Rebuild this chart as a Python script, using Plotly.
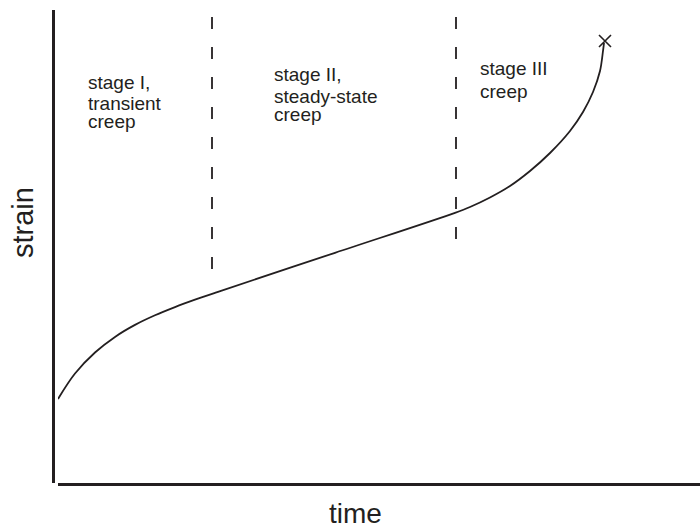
import plotly.graph_objects as go

# creep curve (time, strain) in arbitrary units
time = [0, 17, 37, 57, 77, 97, 117, 137, 160, 277, 397, 412, 432, 452, 472,
        492, 512, 525, 535, 542, 545, 546]
strain = [84, 109.5, 130.5, 146.1, 158.1, 167.7, 175.9, 183.3, 191.2, 230.2, 270.2, 276, 285.5,
          297, 312, 330, 352, 371, 391, 412, 432, 440]

# rupture point
rupture_time = [547]
rupture_strain = [442]

# stage boundaries
boundary_time = [154, 398]
boundary_top = [466, 466]
boundary_bottom = [213, 243]

# stage labels
stage_lines = [
    ["stage I,", "transient", "creep"],
    ["stage II,", "steady-state", "creep"],
    ["stage III", "creep"],
]
stage_x = [28, 214, 420]
stage_y = [[401, 380, 362], [409, 387, 369], [415, 392]]

INK = "#231f20"
FONT = "Liberation Sans, Arial, sans-serif"

fig = go.Figure()

for bx, bt, bb in zip(boundary_time, boundary_top, boundary_bottom):
    fig.add_trace(go.Scatter(x=[bx, bx], y=[bt, bb], mode="lines",
                             line=dict(color=INK, width=1.8, dash="12px,18px"),
                             hoverinfo="skip", showlegend=False))

fig.add_trace(go.Scatter(x=time, y=strain, mode="lines",
                         line=dict(color=INK, width=1.8, shape="spline", smoothing=1.0),
                         showlegend=False))

fig.add_trace(go.Scatter(x=rupture_time, y=rupture_strain, mode="markers",
                         marker=dict(symbol="x-thin", size=12,
                                     line=dict(color=INK, width=1.6)),
                         showlegend=False))

annotations = []
for lines, sx, ys in zip(stage_lines, stage_x, stage_y):
    for txt, yy in zip(lines, ys):
        annotations.append(dict(x=sx, y=yy, xref="x", yref="y", text=txt,
                                showarrow=False, xanchor="left", yanchor="middle",
                                font=dict(family=FONT, size=19, color=INK)))

annotations.append(dict(x=0.4668, y=-0.0645, xref="paper", yref="paper", text="time",
                        showarrow=False, xanchor="center", yanchor="middle",
                        font=dict(family=FONT, size=28, color=INK)))
annotations.append(dict(x=-0.0464, y=0.5518, xref="paper", yref="paper", text="strain",
                        showarrow=False, xanchor="center", yanchor="middle",
                        textangle=-90,
                        font=dict(family=FONT, size=29, color=INK)))

fig.update_layout(
    width=700, height=528,
    margin=dict(l=53, r=0, t=10, b=45),
    paper_bgcolor="white", plot_bgcolor="white",
    showlegend=False,
    annotations=annotations,
    xaxis=dict(range=[0, 642], domain=[5 / 647, 1], showgrid=False, zeroline=False,
               showticklabels=False, ticks="", showline=True, linecolor=INK,
               linewidth=3, anchor="y", fixedrange=True),
    yaxis=dict(range=[0, 473], showgrid=False, zeroline=False,
               showticklabels=False, ticks="", showline=True, linecolor=INK,
               linewidth=3, anchor="free", position=0, fixedrange=True),
)

fig.write_html("out.html", config={"displayModeBar": False},
               post_script="document.body.style.margin='0px';")
